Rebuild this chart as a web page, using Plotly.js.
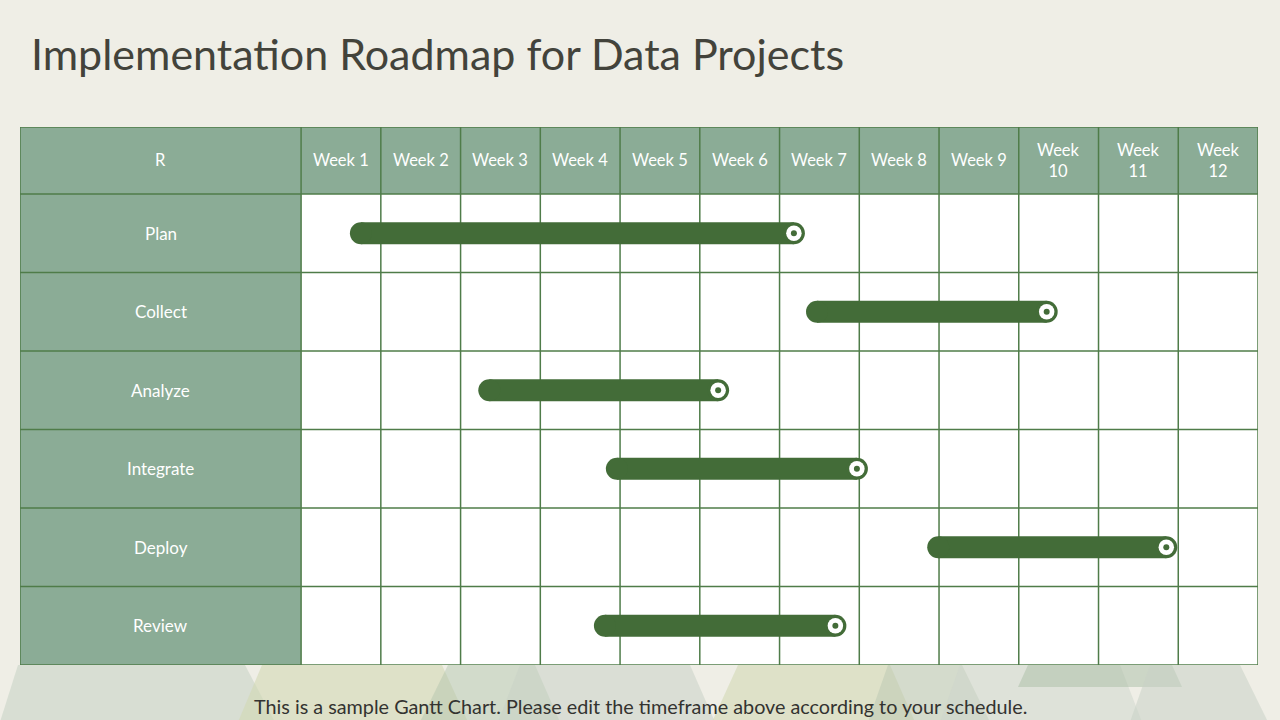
<!DOCTYPE html>
<html>
<head>
<meta charset="utf-8">
<script src="https://cdn.plot.ly/plotly-3.0.1.min.js"></script>
<style>
  html, body { margin: 0; padding: 0; background: #efeee6; }
  #chart { width: 1280px; height: 720px; }
</style>
</head>
<body>
<div id="chart"></div>
<script>
// ---- data ----
const tasks = ["Plan", "Collect", "Analyze", "Integrate", "Deploy", "Review"];
const startWeek = [0.75, 6.47, 2.36, 3.96, 7.99, 3.81];
const endWeek = [6.18, 9.35, 5.23, 6.97, 10.85, 6.70];
const weekLabels = ["Week 1", "Week 2", "Week 3", "Week 4", "Week 5", "Week 6",
                    "Week 7", "Week 8", "Week 9", "Week<br>10", "Week<br>11", "Week<br>12"];
const cornerLabel = "R";
const titleText = "Implementation Roadmap for Data Projects";
const footerText = "This is a sample Gantt Chart. Please edit the timeframe above according to your schedule.";

// ---- styles ----
const BAR = "#436c38";
const GRID = "#4f7c49";
const HEAD = "#8bac96";
const FONT = "Lato, 'Open Sans', sans-serif";
const LABEL_W = 3.525;   // label column width in week units
const HEAD_H = 0.853;    // header height in row units
const nWeeks = weekLabels.length;
const nRows = tasks.length;

const traces = [];
tasks.forEach((t, i) => {
  traces.push({
    type: "scatter", mode: "lines+markers",
    x: [startWeek[i], endWeek[i]], y: [i + 0.5, i + 0.5],
    line: { color: BAR, width: 22 },
    marker: { color: BAR, size: 22 },
    hoverinfo: "skip", showlegend: false
  });
});
traces.push({
  type: "scatter", mode: "markers",
  x: endWeek, y: tasks.map((t, i) => i + 0.5),
  marker: { color: "#ffffff", size: 15.5 },
  hoverinfo: "skip", showlegend: false
});
traces.push({
  type: "scatter", mode: "markers",
  x: endWeek, y: tasks.map((t, i) => i + 0.5),
  marker: { color: BAR, size: 6 },
  hoverinfo: "skip", showlegend: false
});

// ---- shapes ----
const shapes = [];
// decorative background triangles in bottom margin (pixel -> paper)
const PL = 20, PR = 1258, PT = 127, PB = 665;
const px = v => (v - PL) / (PR - PL);
const py = v => (PB - v) / (PB - PT);
function poly(pts, color) {
  const d = pts.map((p, k) => (k ? "L" : "M") + px(p[0]) + "," + py(p[1])).join(" ") + " Z";
  shapes.push({ type: "path", xref: "paper", yref: "paper", path: d,
    fillcolor: color, line: { width: 0 }, layer: "below" });
}
poly([[18,665],[245,665],[275,722],[0,722]], "rgba(200,212,198,0.6)");
poly([[262,665],[442,665],[468,722],[238,722]], "rgba(210,216,180,0.6)");
poly([[448,665],[535,665],[560,722],[420,722]], "rgba(175,195,170,0.45)");
poly([[520,665],[690,665],[715,722],[498,722]], "rgba(200,210,198,0.55)");
poly([[738,665],[890,665],[915,722],[712,722]], "rgba(210,216,180,0.6)");
poly([[888,665],[962,665],[990,722],[868,722]], "rgba(185,200,178,0.5)");
poly([[960,665],[1120,665],[1142,722],[940,722]], "rgba(205,213,203,0.5)");
poly([[1028,665],[1172,665],[1182,687],[1018,687]], "rgba(170,190,165,0.5)");
poly([[1150,665],[1240,665],[1268,722],[1130,722]], "rgba(200,210,198,0.55)");

// table backgrounds
shapes.push({ type: "rect", xref: "x", yref: "y", x0: -LABEL_W, x1: 0, y0: -HEAD_H, y1: nRows,
  fillcolor: HEAD, line: { width: 0 }, layer: "below" });
shapes.push({ type: "rect", xref: "x", yref: "y", x0: 0, x1: nWeeks, y0: -HEAD_H, y1: 0,
  fillcolor: HEAD, line: { width: 0 }, layer: "below" });
// vertical grid lines
for (let w = 0; w <= nWeeks; w++) {
  shapes.push({ type: "line", xref: "x", yref: "y", x0: w, x1: w, y0: -HEAD_H, y1: nRows,
    line: { color: GRID, width: 1.5 }, layer: "below" });
}
shapes.push({ type: "line", xref: "x", yref: "y", x0: -LABEL_W, x1: -LABEL_W, y0: -HEAD_H, y1: nRows,
  line: { color: GRID, width: 1.5 }, layer: "below" });
// horizontal grid lines
shapes.push({ type: "line", xref: "x", yref: "y", x0: -LABEL_W, x1: nWeeks, y0: -HEAD_H, y1: -HEAD_H,
  line: { color: GRID, width: 1.5 }, layer: "below" });
for (let r = 0; r <= nRows; r++) {
  shapes.push({ type: "line", xref: "x", yref: "y", x0: -LABEL_W, x1: nWeeks, y0: r, y1: r,
    line: { color: GRID, width: 1.5 }, layer: "below" });
}

// ---- annotations ----
const annotations = [];
annotations.push({ xref: "x", yref: "y", x: -LABEL_W / 2, y: -HEAD_H / 2, text: cornerLabel,
  showarrow: false, font: { family: FONT, size: 16.5, color: "#ffffff" } });
weekLabels.forEach((w, i) => {
  annotations.push({ xref: "x", yref: "y", x: i + 0.5, y: -HEAD_H / 2, text: w,
    showarrow: false, font: { family: FONT, size: 16.5, color: "#ffffff" } });
});
tasks.forEach((t, i) => {
  annotations.push({ xref: "x", yref: "y", x: -LABEL_W / 2, y: i + 0.5, text: t,
    showarrow: false, font: { family: FONT, size: 17, color: "#ffffff" } });
});
annotations.push({ xref: "paper", yref: "paper", x: px(640), y: py(706), xanchor: "center", yanchor: "middle",
  text: footerText, showarrow: false, font: { family: FONT, size: 19.8, color: "#333330" } });

const layout = {
  width: 1280, height: 720,
  paper_bgcolor: "#efeee6", plot_bgcolor: "#ffffff",
  margin: { l: PL, r: 1280 - PR, t: PT, b: 720 - PB, pad: 0 },
  title: { text: titleText, x: 31 / 1280, xanchor: "left", xref: "container",
    y: 1 - 55 / 720, yanchor: "middle", yref: "container",
    font: { family: FONT, size: 43, color: "#43433b" } },
  xaxis: { range: [-LABEL_W, nWeeks], visible: false, fixedrange: true },
  yaxis: { range: [nRows, -HEAD_H], visible: false, fixedrange: true },
  shapes: shapes, annotations: annotations,
  showlegend: false, hovermode: false
};

Plotly.newPlot("chart", traces, layout, { displayModeBar: false, staticPlot: true });
</script>
</body>
</html>
